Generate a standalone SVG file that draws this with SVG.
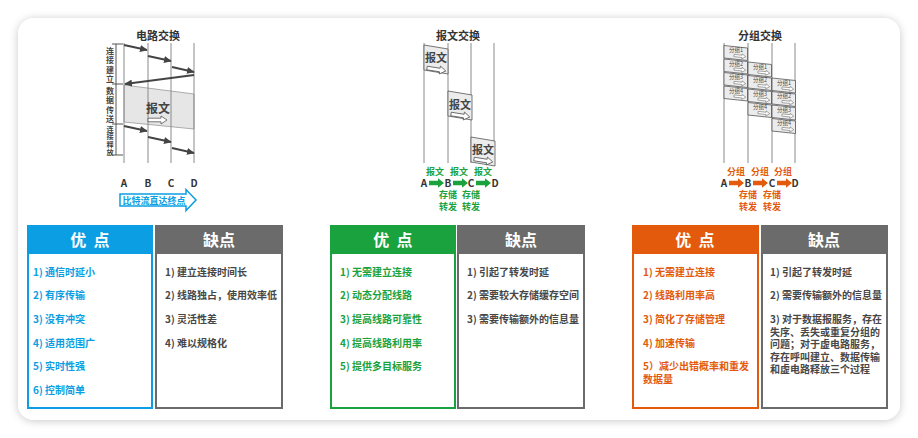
<svg xmlns="http://www.w3.org/2000/svg" xmlns:xlink="http://www.w3.org/1999/xlink" width="918" height="438" viewBox="0 0 918 438">
<style>
.t{font-family:'Noto Sans CJK SC','Noto Sans',sans-serif;font-weight:700}
.title{font-size:11px;fill:#333;text-anchor:middle}
.lbl{font-size:10px;fill:#333;text-anchor:middle}
.vt{font-size:8px;fill:#444;writing-mode:vertical-rl;letter-spacing:1.3px}
.sm{font-size:9px;text-anchor:middle}
.g{fill:#1aa23e}.o{fill:#e35a0c}.b{fill:#0b9ee2}.k{fill:#474747}
.hd{font-size:16px;fill:#fff;text-anchor:middle}
.it{font-size:10px}
.vline{stroke:#8a8a8a;stroke-width:1}
.carrow{stroke:#444;stroke-width:2;marker-end:url(#ah)}
.box{fill:#ececec;stroke:#555;stroke-width:0.8}
.pk{font-size:5.5px;fill:#444;font-family:'Noto Sans CJK SC',sans-serif}
</style>
<defs>
<filter id="sh" x="-5%" y="-5%" width="110%" height="110%">
<feDropShadow dx="0" dy="1" stdDeviation="4" flood-color="#000" flood-opacity="0.22"/>
</filter>
<marker id="ah" markerUnits="userSpaceOnUse" markerWidth="8" markerHeight="7" viewBox="0 0 10 9" refX="9" refY="4.5" orient="auto">
<path d="M0,0 L10,4.5 L0,9 Z" fill="#444"/>
</marker>
<path id="ha" d="M0,-1.8 H13 V-4 L19,0 L13,4 V1.8 H0 Z" fill="#fff" stroke="#555" stroke-width="0.8"/>
<path id="fa" d="M0,-2.3 H9 V-4.8 L15,0 L9,4.8 V2.3 H0 Z"/>
<path id="mbox" d="M0,0 L24,4 L24,29 L0,25 Z" class="box"/>
<path id="pbox" d="M0,0 L23.5,2.5 L23.5,15 L0,12.5 Z" class="box"/>
</defs>

<rect x="18" y="18" width="882" height="402" rx="16" fill="#fff" filter="url(#sh)"/>

<!-- Circuit switching -->
<g id="circuit">
<text class="t title" x="158" y="40">电路交换</text>
<polygon points="124,85 194,94 194,129 124,122" fill="#e6e6e6" stroke="#999" stroke-width="0.8"/>
<line class="vline" x1="124" y1="43" x2="124" y2="163"/>
<line class="vline" x1="148" y1="43" x2="148" y2="163"/>
<line class="vline" x1="171" y1="43" x2="171" y2="163"/>
<line class="vline" x1="194" y1="43" x2="194" y2="163"/>
<g stroke="#555" stroke-width="1">
<line x1="116" y1="44" x2="116" y2="155"/>
<line x1="112" y1="44" x2="123" y2="44"/>
<line x1="112" y1="84" x2="123" y2="84"/>
<line x1="112" y1="124" x2="123" y2="124"/>
<line x1="112" y1="155" x2="123" y2="155"/>
</g>
<text class="t vt" x="110" y="47">连接建立</text>
<text class="t vt" x="110" y="87">数据传送</text>
<text class="t vt" x="110" y="125.5" style="font-size:7.2px;letter-spacing:0.4px">连接释放</text>
<text class="t" x="158" y="112.5" font-size="12" fill="#444" text-anchor="middle">报文</text>
<use xlink:href="#ha" href="#ha" transform="translate(148,120)"/>
<text class="t lbl" x="124" y="187">A</text>
<text class="t lbl" x="148" y="187">B</text>
<text class="t lbl" x="171" y="187">C</text>
<text class="t lbl" x="194" y="187">D</text>
<path d="M120,194 H186 V189.5 L196,200 L186,210.5 V206 H120 Z" fill="#fff" stroke="#0b9ee2" stroke-width="1.5"/>
<text class="t b" x="122.5" y="203.5" font-size="9">比特流直达终点</text>
</g>
<g id="connectors">
<line class="carrow" x1="124" y1="45" x2="147" y2="50"/>
<line class="carrow" x1="148" y1="56" x2="171" y2="61"/>
<line class="carrow" x1="172" y1="67" x2="194" y2="72"/>
<line class="carrow" x1="194" y1="75" x2="125" y2="84"/>
<line class="carrow" x1="124" y1="126" x2="147" y2="131"/>
<line class="carrow" x1="148" y1="137" x2="171" y2="142"/>
<line class="carrow" x1="172" y1="148" x2="194" y2="153"/>
</g>

<!-- Message switching -->
<g id="message">
<text class="t title" x="458" y="40">报文交换</text>
<line class="vline" x1="424" y1="43" x2="424" y2="163"/>
<line class="vline" x1="448" y1="43" x2="448" y2="163"/>
<line class="vline" x1="471" y1="43" x2="471" y2="163"/>
<line class="vline" x1="494" y1="43" x2="494" y2="163"/>
<g transform="translate(424,45)"><use href="#mbox"/><text class="t" x="12" y="17" font-size="11" fill="#444" text-anchor="middle">报文</text><use href="#ha" transform="translate(3,23) rotate(9)"/></g>
<g transform="translate(448,91)"><use href="#mbox"/><text class="t" x="12" y="18" font-size="11" fill="#444" text-anchor="middle">报文</text><use href="#ha" transform="translate(3,23) rotate(9)"/></g>
<g transform="translate(471,137)"><use href="#mbox"/><text class="t" x="12" y="17" font-size="11" fill="#444" text-anchor="middle">报文</text><use href="#ha" transform="translate(3,22) rotate(9)"/></g>
<text class="t sm g" x="435" y="175">报文</text>
<text class="t sm g" x="459" y="175">报文</text>
<text class="t sm g" x="483" y="175">报文</text>
<text class="t lbl" x="424" y="187">A</text>
<text class="t lbl" x="448" y="187">B</text>
<text class="t lbl" x="471" y="187">C</text>
<text class="t lbl" x="495" y="187">D</text>
<use href="#fa" class="g" transform="translate(429,183)"/>
<use href="#fa" class="g" transform="translate(453,183)"/>
<use href="#fa" class="g" transform="translate(476,183)"/>
<text class="t sm g" x="448" y="198">存储</text>
<text class="t sm g" x="448" y="210">转发</text>
<text class="t sm g" x="471" y="198">存储</text>
<text class="t sm g" x="471" y="210">转发</text>
</g>

<!-- Packet switching -->
<g id="packet">
<text class="t title" x="760" y="40">分组交换</text>
<line class="vline" x1="724" y1="43" x2="724" y2="163"/>
<line class="vline" x1="748" y1="43" x2="748" y2="163"/>
<line class="vline" x1="772" y1="43" x2="772" y2="163"/>
<line class="vline" x1="795" y1="43" x2="795" y2="163"/>
<g transform="translate(724,45.5)"><use href="#pbox"/><text class="pk" x="5" y="6.5">分组1</text><use href="#ha" transform="translate(10,10) rotate(6) scale(0.62)"/></g>
<g transform="translate(724,59)"><use href="#pbox"/><text class="pk" x="5" y="6.5">分组2</text><use href="#ha" transform="translate(10,10) rotate(6) scale(0.62)"/></g>
<g transform="translate(724,72.5)"><use href="#pbox"/><text class="pk" x="5" y="6.5">分组3</text><use href="#ha" transform="translate(10,10) rotate(6) scale(0.62)"/></g>
<g transform="translate(724,86)"><use href="#pbox"/><text class="pk" x="5" y="6.5">分组4</text><use href="#ha" transform="translate(10,10) rotate(6) scale(0.62)"/></g>
<g transform="translate(748,62)"><use href="#pbox"/><text class="pk" x="5" y="6.5">分组1</text><use href="#ha" transform="translate(10,10) rotate(6) scale(0.62)"/></g>
<g transform="translate(748,75.5)"><use href="#pbox"/><text class="pk" x="5" y="6.5">分组2</text><use href="#ha" transform="translate(10,10) rotate(6) scale(0.62)"/></g>
<g transform="translate(748,89)"><use href="#pbox"/><text class="pk" x="5" y="6.5">分组3</text><use href="#ha" transform="translate(10,10) rotate(6) scale(0.62)"/></g>
<g transform="translate(748,102.5)"><use href="#pbox"/><text class="pk" x="5" y="6.5">分组4</text><use href="#ha" transform="translate(10,10) rotate(6) scale(0.62)"/></g>
<g transform="translate(772,78)"><use href="#pbox"/><text class="pk" x="5" y="6.5">分组1</text><use href="#ha" transform="translate(10,10) rotate(6) scale(0.62)"/></g>
<g transform="translate(772,91.5)"><use href="#pbox"/><text class="pk" x="5" y="6.5">分组2</text><use href="#ha" transform="translate(10,10) rotate(6) scale(0.62)"/></g>
<g transform="translate(772,105)"><use href="#pbox"/><text class="pk" x="5" y="6.5">分组3</text><use href="#ha" transform="translate(10,10) rotate(6) scale(0.62)"/></g>
<g transform="translate(772,118.5)"><use href="#pbox"/><text class="pk" x="5" y="6.5">分组4</text><use href="#ha" transform="translate(10,10) rotate(6) scale(0.62)"/></g>
<text class="t sm o" x="736" y="175">分组</text>
<text class="t sm o" x="760" y="175">分组</text>
<text class="t sm o" x="783" y="175">分组</text>
<text class="t lbl" x="724" y="187">A</text>
<text class="t lbl" x="748" y="187">B</text>
<text class="t lbl" x="772" y="187">C</text>
<text class="t lbl" x="795" y="187">D</text>
<use href="#fa" class="o" transform="translate(729,183)"/>
<use href="#fa" class="o" transform="translate(753,183)"/>
<use href="#fa" class="o" transform="translate(777,183)"/>
<text class="t sm o" x="748" y="198">存储</text>
<text class="t sm o" x="748" y="210">转发</text>
<text class="t sm o" x="772" y="198">存储</text>
<text class="t sm o" x="772" y="210">转发</text>
</g>

<!-- Table 1 -->
<g id="circuit-pros">
<rect x="28" y="226" width="124" height="182" fill="#fff" stroke="#0b9ee2" stroke-width="2"/>
<rect x="27" y="225" width="126" height="29" fill="#0b9ee2"/>
<text class="t hd" x="90" y="246" xml:space="preserve">优  点</text>
<g class="t it b">
<text x="33" y="276">1) 通信时延小</text>
<text x="33" y="299">2) 有序传输</text>
<text x="33" y="323">3) 没有冲突</text>
<text x="33" y="347">4) 适用范围广</text>
<text x="33" y="370">5) 实时性强</text>
<text x="33" y="394">6) 控制简单</text>
</g>
</g>
<g id="circuit-cons">
<rect x="156" y="226" width="126" height="182" fill="#fff" stroke="#6b6b6b" stroke-width="2"/>
<rect x="155" y="225" width="128" height="29" fill="#6b6b6b"/>
<text class="t hd" x="219" y="246">缺点</text>
<g class="t it k">
<text x="165" y="276">1) 建立连接时间长</text>
<text x="165" y="299">2) 线路独占，使用效率低</text>
<text x="165" y="323">3) 灵活性差</text>
<text x="165" y="347">4) 难以规格化</text>
</g>
</g>

<!-- Table 2 -->
<g id="message-pros">
<rect x="331" y="226" width="124" height="182" fill="#fff" stroke="#1aa23e" stroke-width="2"/>
<rect x="330" y="225" width="126" height="29" fill="#1aa23e"/>
<text class="t hd" x="393" y="246" xml:space="preserve">优  点</text>
<g class="t it g">
<text x="340" y="276">1) 无需建立连接</text>
<text x="340" y="299">2) 动态分配线路</text>
<text x="340" y="323">3) 提高线路可靠性</text>
<text x="340" y="347">4) 提高线路利用率</text>
<text x="340" y="370">5) 提供多目标服务</text>
</g>
</g>
<g id="message-cons">
<rect x="458" y="226" width="126" height="182" fill="#fff" stroke="#6b6b6b" stroke-width="2"/>
<rect x="457" y="225" width="128" height="29" fill="#6b6b6b"/>
<text class="t hd" x="521" y="246">缺点</text>
<g class="t it k">
<text x="467" y="276">1) 引起了转发时延</text>
<text x="467" y="299">2) 需要较大存储缓存空间</text>
<text x="467" y="323">3) 需要传输额外的信息量</text>
</g>
</g>

<!-- Table 3 -->
<g id="packet-pros">
<rect x="633" y="226" width="125" height="182" fill="#fff" stroke="#e35a0c" stroke-width="2"/>
<rect x="632" y="225" width="127" height="29" fill="#e35a0c"/>
<text class="t hd" x="695" y="246" xml:space="preserve">优  点</text>
<g class="t it o">
<text x="643" y="276">1) 无需建立连接</text>
<text x="643" y="299">2) 线路利用率高</text>
<text x="643" y="323">3) 简化了存储管理</text>
<text x="643" y="347">4) 加速传输</text>
<text x="643" y="370">5）减少出错概率和重发<tspan x="643" dy="13">数据量</tspan></text>
</g>
</g>
<g id="packet-cons">
<rect x="762" y="226" width="125" height="182" fill="#fff" stroke="#6b6b6b" stroke-width="2"/>
<rect x="761" y="225" width="127" height="29" fill="#6b6b6b"/>
<text class="t hd" x="824" y="246">缺点</text>
<g class="t it k">
<text x="770" y="276">1) 引起了转发时延</text>
<text x="770" y="299">2) 需要传输额外的信息量</text>
<text x="770" y="323">3) 对于数据报服务，存在<tspan x="770" dy="12.5">失序、丢失或重复分组的</tspan><tspan x="770" dy="12.5">问题；对于虚电路服务，</tspan><tspan x="770" dy="12.5">存在呼叫建立、数据传输</tspan><tspan x="770" dy="12.5">和虚电路释放三个过程</tspan></text>
</g>
</g>
</svg>
